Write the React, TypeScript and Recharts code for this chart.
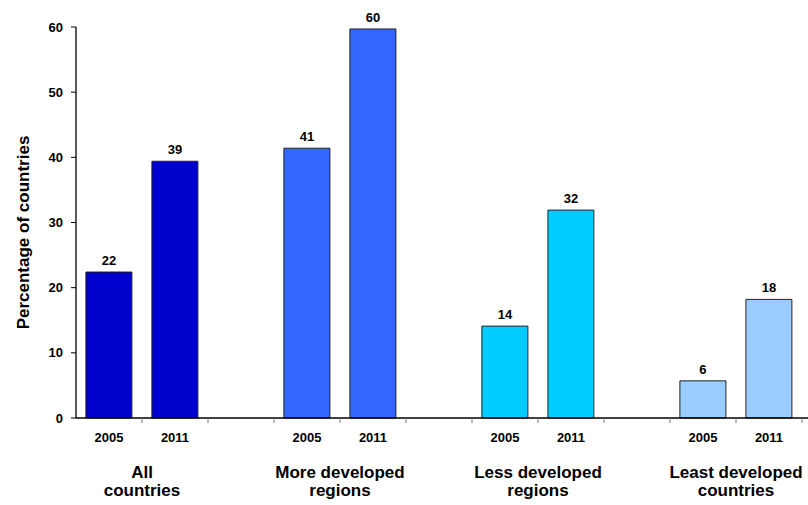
import { BarChart, Bar, XAxis, YAxis, Cell, LabelList } from 'recharts';

const FONT = 'Arial, "Liberation Sans", sans-serif';

// group names split over two lines, as in the source figure
const groupNames = [
  ['All', 'countries'],
  ['More developed', 'regions'],
  ['Less developed', 'regions'],
  ['Least developed', 'countries'],
];
const years = ['2005', '2011'];
const values2005 = [22.4, 41.4, 14.1, 5.7];
const values2011 = [39.4, 59.7, 31.9, 18.2];
const groupColors = ['#0000CC', '#3366FF', '#00CCFF', '#99CCFF'];
const yTicks = [0, 10, 20, 30, 40, 50, 60];

// each group = 2005 bar, 2011 bar, empty spacer slot
const SLOTS = 3;
const rows = groupNames.flatMap((_, i) => [
  { year: years[0], value: values2005[i], color: groupColors[i] },
  { year: years[1], value: values2011[i], color: groupColors[i] },
  { year: '', value: null, color: 'none' },
]);

// year label under each bar, boundary tick mark after each slot,
// group name centred on the boundary between its two bars
const SlotTick = (props: any) => {
  const { x, y, payload, width, visibleTicksCount } = props;
  const half = payload.offset || width / visibleTicksCount / 2;
  const i = payload.index;
  const lines = i % SLOTS === 1 ? groupNames[Math.floor(i / SLOTS)] : undefined;
  return (
    <g>
      <line x1={x + half} x2={x + half} y1={y} y2={y + 5} stroke="#777" />
      {payload.value ? (
        <text x={x} y={y + 23.5} textAnchor="middle" fontFamily={FONT} fontSize={13} fontWeight="bold" fill="#000">
          {payload.value}
        </text>
      ) : null}
      {lines ? (
        <text textAnchor="middle" fontFamily={FONT} fontSize={17} fontWeight="bold" fill="#000">
          <tspan x={x - half} y={y + 60}>{lines[0]}</tspan>
          <tspan x={x - half} y={y + 78}>{lines[1]}</tspan>
        </text>
      ) : null}
    </g>
  );
};

const YLabel = (props: any) => {
  const { viewBox } = props;
  const cx = viewBox.x + 29;
  const cy = viewBox.y + viewBox.height / 2 + 10;
  return (
    <text
      x={cx}
      y={cy}
      transform={`rotate(-90, ${cx}, ${cy})`}
      textAnchor="middle"
      fontFamily={FONT}
      fontSize={17}
      fontWeight="bold"
      fill="#000"
    >
      Percentage of countries
    </text>
  );
};

const App = () => {
  return (
    <div
      style={{
        position: 'absolute',
        left: 0,
        top: 0,
        width: 808,
        height: 505,
        overflow: 'hidden',
        background: '#fff',
        fontFamily: FONT,
      }}
    >
      <BarChart
        width={880}
        height={505}
        data={rows}
        margin={{ top: 27, right: 12, left: 0, bottom: 0 }}
        barCategoryGap="15%"
      >
        <XAxis
          dataKey="year"
          height={87}
          interval={0}
          tickLine={false}
          tickSize={0}
          tickMargin={0}
          axisLine={{ stroke: '#000', strokeWidth: 1.3 }}
          tick={<SlotTick />}
        />
        <YAxis
          width={76}
          domain={[0, 60]}
          ticks={yTicks}
          interval={0}
          axisLine={{ stroke: '#000', strokeWidth: 1.3 }}
          tickLine={{ stroke: '#000' }}
          tickSize={5}
          tickMargin={8}
          tick={{ fill: '#000', fontSize: 13, fontWeight: 'bold', fontFamily: FONT }}
          label={<YLabel />}
        />
        <Bar dataKey="value" stroke="#222" strokeWidth={1} isAnimationActive={false}>
          {rows.map((r, i) => (
            <Cell key={i} fill={r.color} />
          ))}
          <LabelList
            dataKey="value"
            position="top"
            offset={7}
            formatter={(v: any) => (v == null ? '' : Math.round(v))}
            style={{ fill: '#000', fontSize: 13, fontWeight: 'bold', fontFamily: FONT }}
          />
        </Bar>
      </BarChart>
    </div>
  );
};

export default App;
